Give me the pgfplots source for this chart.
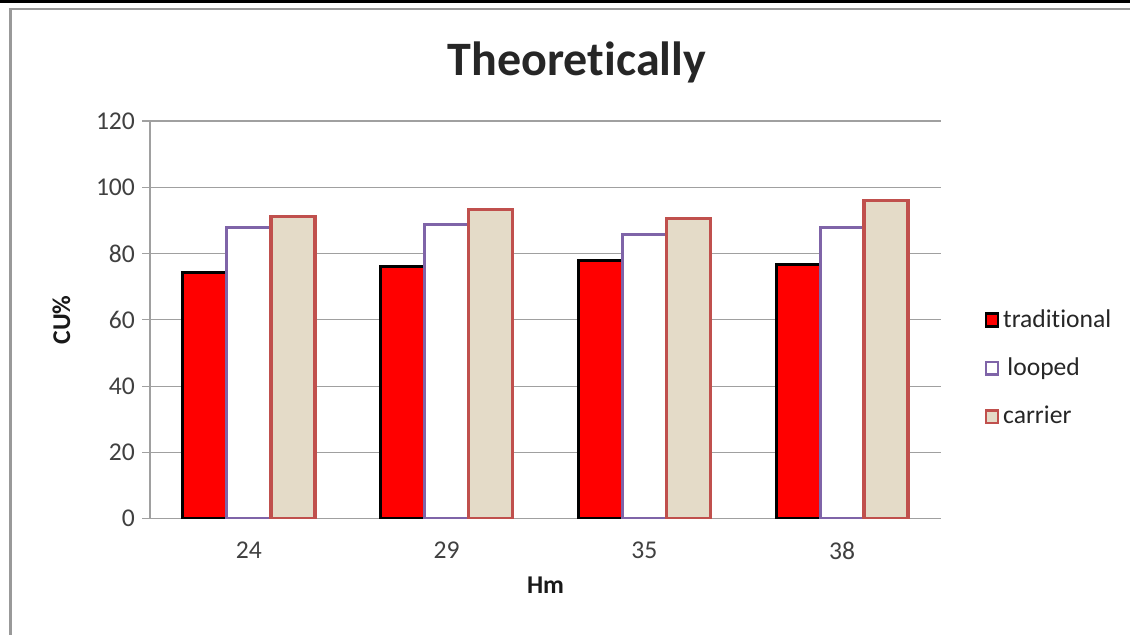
\documentclass[border=0pt]{standalone}
\usepackage{pgfplots}
\pgfplotsset{compat=1.18}
\usepackage{fontspec}
\setmainfont{Carlito}[Ligatures=NoCommon]
\definecolor{loopc}{HTML}{7F64A8}
\definecolor{carrb}{HTML}{C0504D}
\definecolor{carrf}{HTML}{E4DBC8}
\definecolor{gridc}{HTML}{A0A0A0}
\definecolor{txt}{HTML}{404040}
\begin{document}
\begin{tikzpicture}
\path[use as bounding box] (0,0) rectangle (565pt,317.5pt);
\fill[white] (0,0) rectangle (565pt,317.5pt);
\draw[gray!80, line width=1.2pt] (5.2pt,0) -- (5.2pt,313pt) -- (565pt,313pt);
\draw[black, line width=1.6pt] (0,316.7pt) -- (565pt,316.7pt);
\node[font=\fontsize{24}{28}\selectfont\bfseries, text=black!85] at (288.5pt,286.5pt) {Theoretically};
\begin{axis}[
  at={(75pt,58.15pt)}, anchor=south west,
  scale only axis, width=395.5pt, height=198.8pt,
  ybar=0pt, bar width=22pt,
  xmin=-0.5, xmax=3.5, ymin=0, ymax=120,
  xtick=data, xticklabels={24,29,35,38},
  ytick={0,20,40,60,80,100,120},
  ymajorgrids, grid style={gridc, line width=0.6pt},
  axis x line*=bottom, axis y line*=left,
  axis line style={gridc, line width=0.6pt},
  x axis line style={-}, y axis line style={-},
  major tick length=4pt,
  xtick style={draw=none},
  ytick style={gridc, line width=0.6pt},
  tick align=outside,
  /pgf/number format/assume math mode=true,
  ticklabel style={font=\fontsize{12.8}{15}\selectfont, text=txt},
  xticklabel style={yshift=-4pt},
  xlabel={\bfseries Hm}, ylabel={\bfseries CU\%},
  label style={font=\fontsize{12.8}{15}\selectfont, text=black!90},
  xlabel style={yshift=-2pt},
  ylabel style={yshift=6pt},
  legend style={at={(1.047,0.547)}, anchor=north west, draw=none, fill=none,
    font=\fontsize{12.8}{15}\selectfont, row sep=9.8pt, text=black!85},
  legend cell align=left,
  legend image code/.code={\draw[#1, line width=1.3pt] (0pt,-3.2pt) rectangle (6pt,3.2pt);},
]
\addplot[fill=red, draw=black, line width=1.6pt] coordinates {(0,74.2) (1,76.0) (2,77.9) (3,76.7)};
\addplot[fill=white, draw=loopc, line width=1.6pt] coordinates {(0,87.9) (1,88.8) (2,85.8) (3,87.9)};
\addplot[fill=carrf, draw=carrb, line width=1.8pt] coordinates {(0,91.2) (1,93.3) (2,90.6) (3,96.0)};
\legend{traditional,\,looped,carrier}
\end{axis}
\end{tikzpicture}
\end{document}
